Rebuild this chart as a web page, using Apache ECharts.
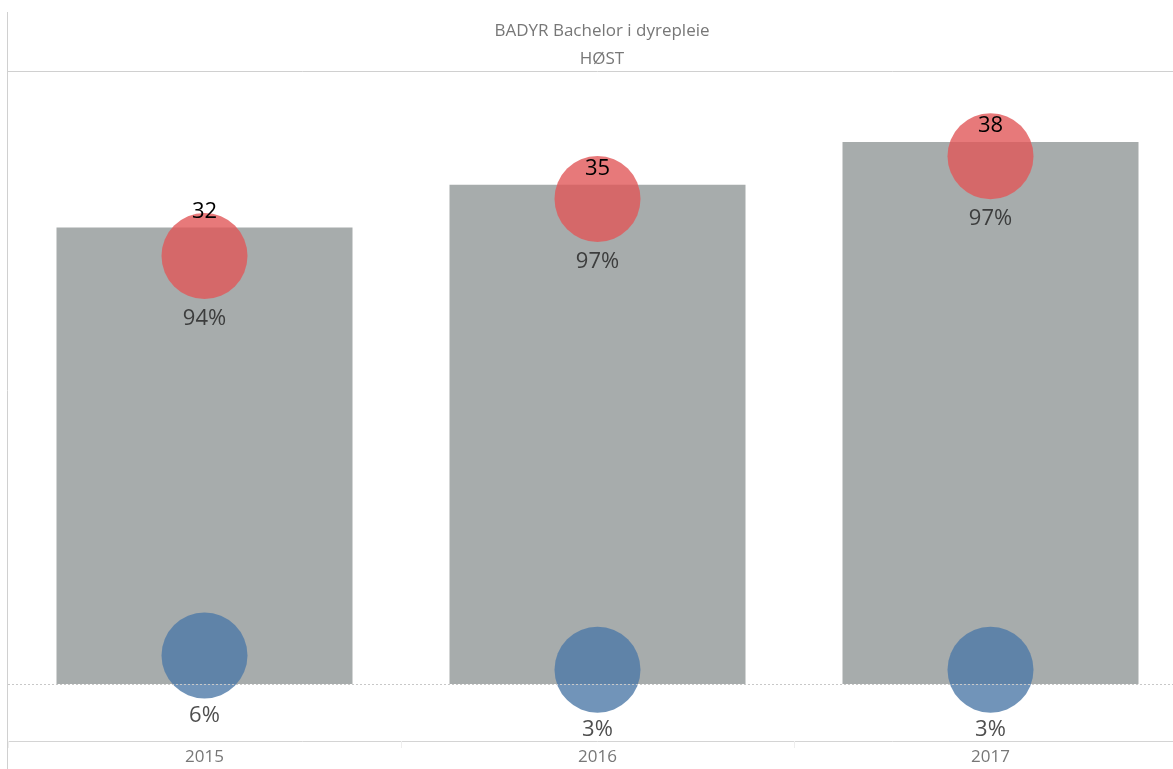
<!DOCTYPE html>
<html>
<head>
<meta charset="utf-8">
<title>BADYR Bachelor i dyrepleie</title>
<script src="https://cdn.jsdelivr.net/npm/echarts@6/dist/echarts.min.js"></script>
<style>
  html, body { margin: 0; padding: 0; background: #fff; overflow: hidden; }
  /* plottet fortsetter litt forbi høyre kant, som i originalen */
  #chart { width: 1187px; height: 769px; }
</style>
</head>
<body>
<div id="chart"></div>
<script>
// År og antall (fra bildet)
const years = ['2015', '2016', '2017'];
const totals = [32, 35, 38];
const countYes = [30, 34, 37];   // rød sirkel
const countNo = [2, 1, 1];       // blå sirkel

const pct = (part, i) => Math.round(part / totals[i] * 100) + '%';

const chart = echarts.init(document.getElementById('chart'));

const labelFont = '"Open Sans", Lato, sans-serif';

const option = {
  animation: false,
  title: {
    text: 'BADYR Bachelor i dyrepleie',
    subtext: 'HØST',
    left: 597,
    textAlign: 'center',
    top: 18,
    itemGap: 11,
    textStyle: { fontFamily: labelFont, fontSize: 17, fontWeight: 'normal', color: '#777' },
    subtextStyle: { fontFamily: labelFont, fontSize: 17, color: '#777' }
  },
  graphic: [
    { type: 'line', shape: { x1: 7.5, y1: 12, x2: 7.5, y2: 769 }, style: { stroke: '#d0d0d0', lineWidth: 1 } },
    { type: 'line', shape: { x1: 8, y1: 71.5, x2: 1187, y2: 71.5 }, style: { stroke: '#d0d0d0', lineWidth: 1 } }
  ],
  grid: { left: 8, right: 0, top: 72, bottom: 28 },
  xAxis: {
    type: 'category',
    data: years,
    axisLine: { onZero: false, lineStyle: { color: '#d4d4d4' } },
    axisTick: { show: true, length: 7, lineStyle: { color: '#eeeeee' } },
    axisLabel: { fontFamily: labelFont, fontSize: 17, color: '#777', margin: 8 }
  },
  yAxis: {
    type: 'value',
    show: false,
    min: -4,
    max: 42.9,
    splitLine: { show: false }
  },
  series: [
    {
      name: 'Totalt',
      type: 'bar',
      data: totals,
      barWidth: 296,
      itemStyle: { color: '#a7acac' },
      z: 2,
      markLine: {
        silent: true,
        symbol: 'none',
        label: { show: false },
        lineStyle: { color: '#c8c8c8', type: [2, 2], width: 1 },
        data: [{ yAxis: 0 }]
      }
    },
    {
      name: 'Ja',
      type: 'scatter',
      data: countYes,
      symbolSize: 86,
      itemStyle: { color: '#e15759', opacity: 0.8 },
      z: 3,
      label: {
        show: true,
        position: 'bottom',
        distance: 9,
        formatter: p => pct(p.value, p.dataIndex),
        fontFamily: labelFont,
        fontSize: 22,
        color: '#222'
      }
    },
    {
      name: 'Nei',
      type: 'scatter',
      data: countNo,
      symbolSize: 86,
      itemStyle: { color: '#4e79a7', opacity: 0.8 },
      z: 3,
      label: {
        show: true,
        position: 'bottom',
        distance: 6,
        formatter: p => pct(p.value, p.dataIndex),
        fontFamily: labelFont,
        fontSize: 22,
        color: '#222'
      }
    },
    {
      name: 'Antall',
      type: 'bar',
      data: totals,
      barWidth: 296,
      barGap: '-100%',
      itemStyle: { color: 'rgba(0,0,0,0)' },
      z: 5,
      silent: true,
      label: {
        show: true,
        position: 'top',
        distance: 5,
        fontFamily: labelFont,
        fontSize: 22,
        color: '#000'
      }
    }
  ]
};

chart.setOption(option);
</script>
</body>
</html>
